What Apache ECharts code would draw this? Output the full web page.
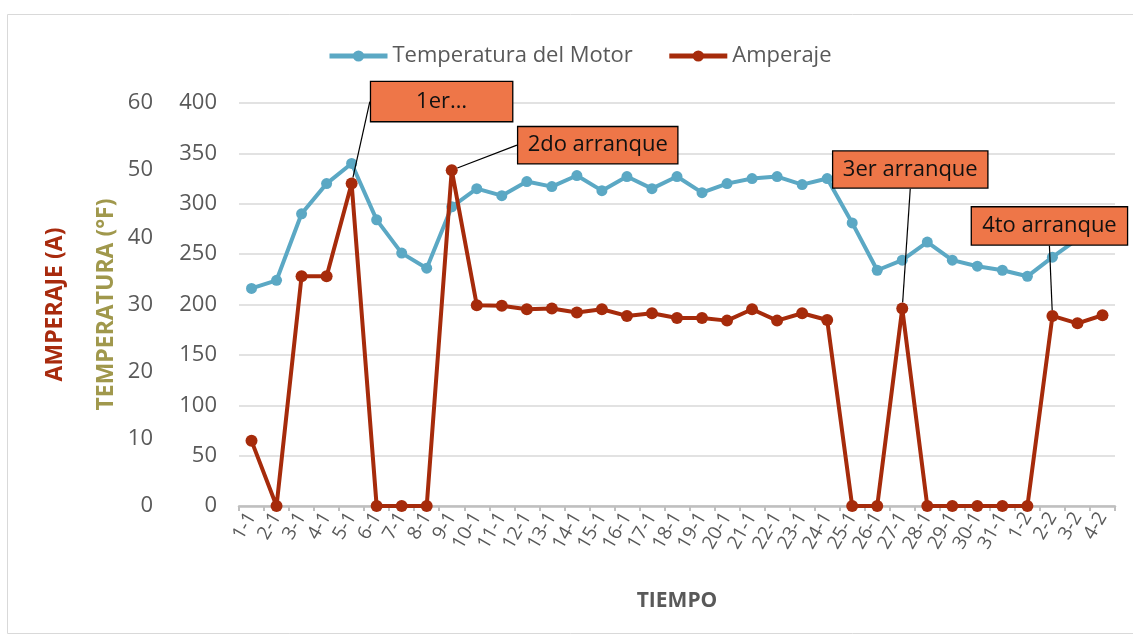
<!DOCTYPE html>
<html>
<head>
<meta charset="utf-8">
<script src="https://cdn.jsdelivr.net/npm/echarts@6/dist/echarts.min.js"></script>
<style>html,body{margin:0;padding:0;background:#fff;}#c{width:1133px;height:636px;}</style>
</head>
<body>
<div id="c"></div>
<script>
const categories = ['1-1','2-1','3-1','4-1','5-1','6-1','7-1','8-1','9-1','10-1','11-1','12-1','13-1','14-1','15-1','16-1','17-1','18-1','19-1','20-1','21-1','22-1','23-1','24-1','25-1','26-1','27-1','28-1','29-1','30-1','31-1','1-2','2-2','3-2','4-2'];
const temperatura = [216,224,290,320,340,284,251,236,297,315,308,322,317,328,313,327,315,327,311,320,325,327,319,325,281,234,244,262,244,238,234,228,247,265,272];
const amperaje = [9.7,0,34.2,34.2,48,0,0,0,50,29.9,29.8,29.3,29.4,28.8,29.3,28.3,28.7,28.0,28.0,27.6,29.3,27.6,28.7,27.7,0,0,29.4,0,0,0,0,0,28.3,27.2,28.4];
const tempTicks = [0,50,100,150,200,250,300,350,400];
const ampTicks = [0,10,20,30,40,50,60];
const annotationIndex = [4, 8, 26, 32];
const annotationText = ['1er…', '2do arranque', '3er arranque', '4to arranque'];

// layout of annotation boxes (offsets from the data point, box size, leader style)
const annLayout = [
  {dx: 90, dy: -82, w: 141, h: 39, style: 'elbow'},
  {dx: 146, dy: -25, w: 159, h: 36, style: 'elbow'},
  {dx: 8, dy: -139, w: 154, h: 36, style: 'bottom'},
  {dx: -3, dy: -90, w: 155, h: 37, style: 'bottom'}
];

const FONT = 'Open Sans';
const chart = echarts.init(document.getElementById('c'), null, {renderer: 'canvas'});

const ampData = amperaje.map((v, i) => {
  const k = annotationIndex.indexOf(i);
  if (k < 0) return v;
  const L = annLayout[k];
  return {
    value: v,
    label: {
      show: true,
      formatter: annotationText[k],
      width: L.w, height: L.h, lineHeight: L.h,
      align: 'center', verticalAlign: 'middle',
      padding: 0,
      backgroundColor: '#EE7648',
      borderColor: '#000', borderWidth: 1.3,
      color: '#111', fontSize: 22, fontFamily: FONT
    },
    labelLine: {show: true, lineStyle: {color: '#000', width: 1.2}}
  };
});

chart.setOption({
  animation: false,
  textStyle: {fontFamily: FONT},
  graphic: [{type: 'rect', shape: {x: 7.5, y: 14.5, width: 1140, height: 619}, style: {fill: 'none', stroke: '#d9d9d9', lineWidth: 1}, silent: true}],
  legend: {
    left: 322, top: 40,
    itemWidth: 58, itemHeight: 14, itemGap: 34,
    lineStyle: {width: 5},
    textStyle: {fontSize: 22, color: '#595959', fontFamily: FONT},
    data: ['Temperatura del Motor', 'Amperaje']
  },
  grid: {left: 239, right: 18, top: 103, bottom: 130},
  xAxis: {
    type: 'category', data: categories, boundaryGap: true,
    name: 'TIEMPO', nameLocation: 'middle', nameGap: 85,
    nameTextStyle: {fontSize: 21, fontWeight: 'bold', color: '#595959', fontFamily: FONT},
    axisLine: {lineStyle: {color: '#bfbfbf', width: 2.5}},
    axisTick: {show: true, interval: 0, length: 5, lineStyle: {color: '#bfbfbf', width: 2}},
    axisLabel: {interval: 0, rotate: 60, fontSize: 19, color: '#595959', margin: 8, fontFamily: FONT}
  },
  yAxis: [
    {
      type: 'value', min: 0, max: 400, interval: 50, position: 'left',
      name: 'TEMPERATURA (°F)', nameLocation: 'middle', nameGap: 121,
      nameTextStyle: {fontSize: 23, fontWeight: 'bold', color: '#A0984C', fontFamily: FONT},
      axisLine: {show: false}, axisTick: {show: false},
      axisLabel: {fontSize: 22, color: '#595959', margin: 22, fontFamily: FONT,
        formatter: v => tempTicks.indexOf(v) >= 0 ? String(v) : ''},
      splitLine: {lineStyle: {color: '#d9d9d9', width: 1.5}}
    },
    {
      type: 'value', min: 0, max: 60, interval: 10, position: 'left', offset: 64,
      name: 'AMPERAJE (A)', nameLocation: 'middle', nameGap: 108,
      nameTextStyle: {fontSize: 23, fontWeight: 'bold', color: '#A82B0E', fontFamily: FONT},
      axisLine: {show: false}, axisTick: {show: false},
      axisLabel: {fontSize: 22, color: '#595959', margin: 22, fontFamily: FONT,
        formatter: v => ampTicks.indexOf(v) >= 0 ? String(v) : ''},
      splitLine: {show: false}
    }
  ],
  series: [
    {
      name: 'Temperatura del Motor', type: 'line', yAxisIndex: 0, data: temperatura,
      symbol: 'circle', symbolSize: 11,
      lineStyle: {color: '#5BA8C4', width: 4},
      itemStyle: {color: '#5BA8C4'},
      z: 2
    },
    {
      name: 'Amperaje', type: 'line', yAxisIndex: 1, data: ampData,
      symbol: 'circle', symbolSize: 12,
      lineStyle: {color: '#A62B0B', width: 4},
      itemStyle: {color: '#A62B0B'},
      label: {show: false},
      labelLine: {show: true, lineStyle: {color: '#000', width: 1.2}},
      labelLayout: function (p) {
        const k = annotationIndex.indexOf(p.dataIndex);
        if (k < 0) return {};
        const L = annLayout[k];
        const px = p.rect.x + p.rect.width / 2, py = p.rect.y + p.rect.height / 2;
        const cx = px + L.dx, cy = py + L.dy;
        const left = cx - L.w / 2, bottom = cy + L.h / 2;
        let pts;
        if (L.style === 'elbow') pts = [[px, py], [left - 13, cy], [left, cy]];
        else pts = [[px, py], [cx, (py + bottom) / 2], [cx, bottom]];
        return {x: cx, y: cy, align: 'center', verticalAlign: 'middle', labelLinePoints: pts};
      },
      z: 3
    }
  ]
});
</script>
</body>
</html>
